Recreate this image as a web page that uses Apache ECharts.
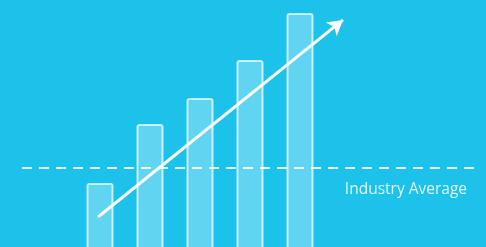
<!DOCTYPE html>
<html>
<head>
<meta charset="utf-8">
<script src="https://cdn.jsdelivr.net/npm/echarts@6/dist/echarts.min.js"></script>
<style>
    html, body { margin: 0; padding: 0; background: #1dc1ea; }
    #chart { width: 486px; height: 247px; }
</style>
</head>
<body>
<div id="chart"></div>
<script>
// bar positions (x units) and heights; bars grow from 0, below the visible range
var barX = [1, 2, 3, 4, 5]
var barValues = [27.4, 50.8, 61.1, 76.2, 94.8]
// industry average level and its line extent
var averageValue = 33.5
var averageFrom = -0.56
var averageTo = 8.54
var averageLabel = 'Industry Average'
// trend arrow start / end
var arrowStart = [0.96, 13.9]
var arrowEnd = [5.86, 92.1]

var chart = echarts.init(document.getElementById('chart'))

var barData = []
for (var i = 0; i < barX.length; i++) {
    barData.push([barX[i], barValues[i]])
}

chart.setOption({
    backgroundColor: '#1dc2eb',
    animation: false,
    grid: {left: 0, right: 0, top: 0, bottom: 0},
    xAxis: {
        type: 'value',
        min: -1,
        max: 8.72,
        show: false
    },
    yAxis: {
        type: 'value',
        min: 2,
        max: 100,
        show: false
    },
    series: [
        {
            type: 'bar',
            data: barData,
            barWidth: 27,
            clip: false,
            itemStyle: {
                color: 'rgba(255,255,255,0.3)',
                borderColor: 'rgba(255,255,255,0.7)',
                borderWidth: 2,
                borderRadius: 2
            },
            markLine: {
                silent: true,
                symbol: 'none',
                data: [
                    [
                        {
                            coord: [averageFrom, averageValue],
                            lineStyle: {color: 'rgba(255,255,255,0.85)', width: 2, type: [10, 7]},
                            label: {
                                show: true,
                                position: 'insideEndBottom',
                                formatter: averageLabel,
                                color: 'rgba(255,255,255,0.85)',
                                fontFamily: 'Open Sans',
                                fontSize: 15.5,
                                distance: [10, 14]
                            }
                        },
                        {coord: [averageTo, averageValue]}
                    ],
                    [
                        {
                            coord: arrowStart,
                            symbol: 'none',
                            lineStyle: {color: '#ffffff', width: 3, type: 'solid'},
                            label: {show: false}
                        },
                        {coord: arrowEnd, symbol: 'arrow', symbolSize: [13, 15]}
                    ]
                ]
            }
        }
    ]
})
</script>
</body>
</html>
